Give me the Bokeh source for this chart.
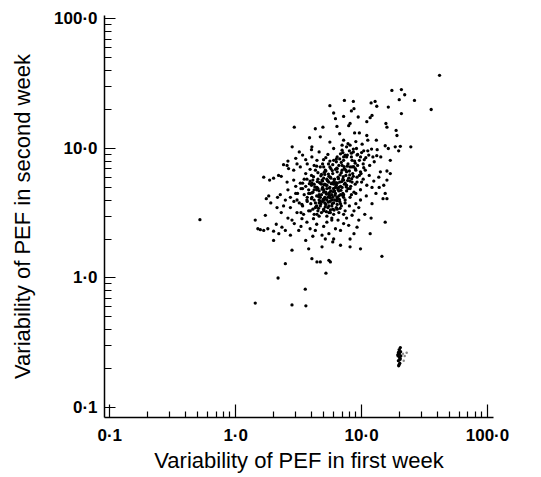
import json
from bokeh.plotting import figure
from bokeh.models import Range1d, FixedTicker, CustomJSTickFormatter
from bokeh.embed import file_html
from bokeh.resources import INLINE

# ---- tick values / labels ----
tick_values = [0.1, 1.0, 10.0, 100.0]
tick_labels = ["0·1", "1·0", "10·0", "100·0"]
minor_values = [0.2, 0.3, 0.4, 0.5, 0.6, 0.7, 0.8, 0.9,
                2, 3, 4, 5, 6, 7, 8, 9,
                20, 30, 40, 50, 60, 70, 80, 90]

x_title = "Variability of PEF in first week"
y_title = "Variability of PEF in second week"

# ---- data: variability in first week (x) and second week (y) ----
upper_week1 = [17.4, 20.7, 22.0, 19.9, 26.3, 7.3, 8.6, 11.9, 12.8, 5.6, 13.2, 16.3, 8.7, 8.3, 41.6, 35.7,
               20.7, 6.0, 7.2, 12.1, 11.7, 9.4, 6.2, 11.0, 15.6, 15.9, 2.92, 4.29, 4.93, 6.37, 8.1, 7.9, 18.8, 19.1, 9.6, 8.8,
               11.0, 11.2, 13.1, 3.86, 6.7, 7.2, 5.6, 4.7, 4.03, 2.81, 6.0, 8.1, 9.1, 15.4, 16.3, 18.5, 20.3, 24.6, 19.7, 13.3, 10.4, 7.6, 7.0, 8.6]
upper_week2 = [28.1, 28.5, 26.0, 23.8, 23.5, 23.5, 23.1, 22.5, 23.1, 21.4, 21.2, 20.9, 20.3, 19.5, 36.7, 20.0,
               18.6, 18.8, 17.7, 18.0, 17.3, 17.5, 17.0, 16.1, 15.6, 14.6, 14.6, 14.2, 14.6, 14.8, 15.6, 15.0, 13.8, 12.6, 13.2, 13.2,
               12.6, 11.6, 11.6, 12.1, 13.0, 11.6, 11.2, 12.3, 10.3, 10.3, 10.0, 10.6, 10.0, 10.5, 10.0, 10.3, 10.4, 10.3, 9.6, 9.8, 9.6, 10.3, 9.7, 9.4]

mid_week1 = [3.40, 2.56, 2.63, 3.07, 4.03, 4.42, 4.99, 5.46, 6.0, 6.4, 6.8, 7.2, 7.6, 8.4, 9.2, 9.8, 10.5, 11.4, 12.3, 14.2,
             16.9, 8.1, 8.9, 9.8, 10.7, 14.1, 15.9, 13.7, 16.9, 4.7, 5.15, 5.6, 6.4, 7.0, 7.5, 4.2, 3.7, 3.26, 2.89,
             1.67, 1.86, 2.19, 2.56, 2.89, 3.26, 3.68, 4.03, 4.42, 4.85, 5.25, 5.65, 6.0, 6.6, 7.2, 7.6, 8.4, 9.2, 10.0, 11.0,
             12.1, 15.4, 15.9, 9.8, 9.0, 8.1, 7.2, 6.6, 6.0, 5.5, 5.0, 4.6, 4.2, 3.8, 3.4, 3.0, 2.6, 2.26, 1.83]
mid_week2 = [8.9, 7.4, 7.0, 7.6, 8.6, 8.1, 8.2, 7.6, 8.1, 8.6, 9.1, 8.1, 8.6, 8.1, 8.9, 8.6, 8.2, 8.9, 8.6, 8.6,
             8.1, 7.2, 7.0, 6.6, 6.8, 6.6, 6.7, 6.0, 6.4, 7.2, 6.8, 7.2, 7.0, 7.4, 6.8, 7.4, 7.6, 7.2, 6.8,
             6.0, 5.7, 6.2, 5.5, 5.7, 5.4, 5.8, 5.4, 5.0, 5.7, 5.2, 6.0, 5.5, 5.0, 5.7, 5.2, 5.5, 6.0, 5.5, 5.2,
             5.0, 4.5, 5.7, 4.8, 4.5, 4.9, 4.4, 4.7, 4.9, 4.5, 4.8, 4.4, 4.8, 4.5, 4.9, 4.5, 4.8, 4.4, 4.3]

low_week1 = [2.15, 2.48, 2.72, 3.07, 3.36, 3.68, 4.03, 4.29, 4.7, 5.15, 5.5, 5.8, 6.4, 6.8, 7.4, 8.1, 9.0, 9.8, 12.1, 14.8,
             15.9, 2.72, 3.07, 3.46, 3.91, 4.42, 5.0, 5.65, 6.4, 7.2, 8.7, 9.5, 8.4, 2.4, 2.13,
             1.43, 1.72, 1.57, 1.67, 2.0, 2.0, 2.2, 2.33, 2.48, 2.72, 2.8, 2.92, 3.17, 3.36, 3.68, 4.15, 4.29, 4.85, 5.15, 5.5,
             6.0, 6.8, 7.2, 7.9, 9.2, 8.1, 8.7, 11.7, 15.4, 5.8,
             2.8, 3.8, 4.85, 6.8, 8.1, 9.8, 4.03, 4.42, 4.7, 5.5, 5.65,
             0.52, 1.43, 2.80, 3.61, 3.57, 2.17, 2.48, 5.21, 14.5]
low_week2 = [4.2, 4.0, 4.2, 4.0, 3.7, 4.0, 4.2, 3.5, 3.9, 4.1, 3.6, 4.0, 4.2, 3.75, 4.0, 4.2, 3.75, 4.0, 3.75, 4.1,
             4.1, 3.5, 3.2, 3.1, 3.3, 3.1, 3.3, 3.2, 3.4, 3.1, 3.3, 3.5, 3.05, 3.6, 3.5,
             2.8, 3.05, 2.36, 2.33, 2.3, 1.95, 2.2, 2.47, 2.33, 2.14, 2.8, 2.63, 2.33, 2.87, 2.7, 2.87, 2.33, 2.14, 2.0, 2.2,
             2.0, 2.33, 2.63, 2.55, 2.47, 2.0, 2.2, 2.2, 2.7, 2.8,
             1.64, 1.68, 1.74, 1.79, 1.74, 1.68, 1.41, 1.33, 1.33, 1.37, 1.33,
             2.82, 0.64, 0.62, 0.61, 0.82, 1.0, 1.29, 1.09, 1.47]

core_week1 = [3.5, 3.6, 3.7, 3.8, 3.9, 4.0, 4.0, 4.1, 4.1, 4.2, 4.3, 4.3, 4.4, 4.4, 4.5, 4.5, 4.6, 4.6, 4.7, 4.7,
              4.8, 4.8, 4.9, 4.9, 5.0, 5.0, 5.0, 5.1, 5.1, 5.2, 5.2, 5.3, 5.3, 5.4, 5.4, 5.5, 5.5, 5.6, 5.6, 5.7,
              5.7, 5.8, 5.8, 5.9, 5.9, 6.0, 6.0, 6.1, 6.2, 6.2, 6.3, 6.3, 6.4, 6.5, 6.5, 6.6, 6.7, 6.7, 6.8, 6.9,
              7.0, 7.1, 7.2, 7.3, 7.4, 7.5, 7.6, 7.8, 7.9, 8.0, 8.2, 8.4, 8.6, 8.8, 9.0, 3.4, 3.3, 3.2, 3.5, 3.7,
              3.8, 3.9, 4.0, 4.2, 4.2, 4.4, 4.5, 4.5, 4.7, 4.8, 4.9, 5.0, 5.1, 5.2, 5.3, 5.4, 5.5, 5.6, 5.7, 5.8,
              5.9, 6.0, 6.1, 6.2, 6.4, 6.4, 6.6, 6.8, 6.9, 7.0, 7.1, 7.3, 7.4, 7.6, 7.8, 8.1, 8.3, 8.5, 8.9, 9.3,
              9.6, 4.6, 5.3, 6.0, 4.1, 3.6, 4.9, 5.6, 6.3, 7.2, 6.9, 7.7, 8.3, 5.9, 4.4, 3.9, 3.4, 3.1, 3.0, 2.9,
              3.3, 5.8, 6.6, 7.4, 8.0, 8.7, 9.2, 9.9, 10.4, 5.0, 5.6, 4.4, 5.3, 6.1, 4.8, 5.5, 4.6, 6.4, 5.1]
core_week2 = [4.4, 5.1, 3.9, 4.8, 5.6, 4.1, 6.2, 3.4, 4.6, 5.3, 3.8, 6.8, 4.3, 5.0, 3.3, 5.8, 4.0, 4.7, 3.6, 5.4,
              4.4, 6.3, 3.9, 5.0, 3.4, 4.6, 5.9, 4.2, 5.3, 3.7, 6.7, 4.9, 4.0, 5.6, 3.5, 4.4, 6.1, 3.9, 5.0, 4.7,
              7.0, 3.6, 5.4, 4.2, 6.4, 4.9, 3.8, 5.8, 4.5, 6.9, 3.5, 5.2, 4.1, 6.0, 4.8, 7.4, 5.5, 3.9, 4.4, 6.5,
              5.0, 5.8, 4.2, 7.0, 5.4, 6.2, 4.7, 7.6, 5.9, 6.7, 5.1, 7.2, 6.1, 8.0, 6.8, 3.6, 4.9, 3.8, 5.8, 4.2,
              3.3, 4.5, 5.2, 4.0, 3.1, 3.6, 4.9, 6.5, 4.2, 3.2, 5.6, 7.2, 3.8, 4.6, 5.8, 4.2, 3.2, 4.6, 5.9, 4.4,
              3.4, 5.3, 4.0, 5.0, 6.6, 3.7, 4.3, 5.1, 3.6, 6.8, 4.5, 5.3, 3.8, 6.6, 4.9, 5.6, 4.4, 6.4, 5.3, 7.4,
              6.2, 3.0, 3.0, 3.1, 5.7, 6.4, 7.6, 8.0, 8.3, 8.6, 7.8, 8.9, 9.2, 7.5, 7.3, 6.9, 5.4, 4.5, 5.1, 3.9,
              3.2, 2.9, 3.2, 3.3, 3.6, 4.6, 5.5, 6.4, 7.1, 4.0, 4.3, 4.8, 5.2, 4.7, 5.3, 5.5, 3.8, 5.4, 6.3]

dense_week1 = [4.05, 4.25, 4.35, 4.55, 4.65, 4.75, 4.85, 4.95, 5.05, 5.15, 5.25, 5.35, 5.45, 5.55, 5.65, 5.75, 5.85,
               5.95, 6.05, 6.15, 6.25, 6.35, 6.45, 6.55, 6.65, 6.75, 6.85, 6.95, 7.05, 7.15, 3.85, 3.95, 4.15, 4.45,
               4.55, 4.75, 5.05, 5.25, 5.45, 5.65, 5.85, 6.05, 6.35, 6.75, 7.25, 7.55, 7.75, 8.05, 8.35, 8.65]
dense_week2 = [4.55, 5.05, 3.55, 4.25, 5.45, 3.75, 4.85, 4.05, 5.25, 3.55, 4.45, 5.65, 3.85, 4.95, 4.15, 5.35, 3.75,
               4.65, 5.75, 4.35, 5.45, 3.95, 4.95, 5.85, 4.05, 6.25, 4.75, 5.55, 4.35, 6.05, 5.35, 3.75, 6.05, 5.55,
               3.45, 6.15, 6.55, 3.25, 6.35, 3.35, 6.75, 3.35, 7.05, 3.45, 7.25, 5.05, 5.65, 6.25, 5.85, 7.25]

spread_week1 = [6.3, 6.7, 7.1, 7.4, 7.7, 8.0, 8.3, 8.6, 8.9, 9.3, 9.6, 10.0, 10.3, 10.8, 11.2, 11.6, 12.0, 12.6, 13.2,
                7.0, 7.8, 9.0, 10.1, 5.4, 5.2, 4.6, 4.0, 3.6, 3.2, 3.0, 2.6, 2.4, 2.3, 2.0, 1.75, 1.9, 2.3, 2.6, 2.1,
                1.8, 1.5, 3.3, 3.9, 4.4, 5.0, 5.3, 6.2, 6.5, 7.6, 4.1, 3.6, 5.9, 9.5, 10.6, 11.9, 13.0, 13.8, 12.5,
                11.5, 10.3, 10.9, 15.0]
spread_week2 = [7.9, 8.3, 9.3, 8.9, 7.3, 9.6, 8.6, 9.9, 7.7, 9.0, 8.1, 9.3, 7.6, 8.5, 9.6, 7.4, 9.9, 7.9, 8.8,
                10.6, 10.9, 11.3, 10.8, 9.0, 8.5, 9.4, 9.8, 8.2, 9.4, 8.4, 8.0, 7.5, 6.1, 5.9, 4.1, 3.8, 3.2, 2.9, 2.6,
                2.4, 2.4, 2.5, 2.4, 2.6, 2.5, 2.7, 2.4, 2.8, 2.9, 2.1, 1.95, 1.9, 2.8, 3.1, 2.9, 4.5, 5.0, 5.6,
                6.2, 5.8, 4.3, 5.2]

cluster_week1 = [19.5, 20.0, 20.2, 19.8, 20.5, 19.6, 20.1, 19.9, 20.3, 19.7, 20.0, 19.4, 19.6, 20.2, 19.9, 20.4]
cluster_week2 = [0.25, 0.26, 0.24, 0.27, 0.25, 0.23, 0.22, 0.28, 0.29, 0.21, 0.245, 0.255, 0.265, 0.235, 0.215, 0.27]
faint_week1 = [21.3, 22.0, 21.6, 22.8]
faint_week2 = [0.26, 0.25, 0.23, 0.265]

# ---- figure ----
W, H = 525, 475
p = figure(width=W, height=H, x_axis_type="log", y_axis_type="log",
           x_range=Range1d(0.0908, 111.6), y_range=Range1d(0.0837, 106.4),
           output_backend="svg", toolbar_location=None,
           min_border_left=104, min_border_right=W - 493, min_border_top=15, min_border_bottom=H - 417)
p.outline_line_color = None
p.grid.visible = False
p.background_fill_color = "white"
p.border_fill_color = "white"

fmt_code = ("const vals = %s; const labs = %s;"
            "for (let i = 0; i < vals.length; i++) {"
            "  if (Math.abs(Math.log10(tick) - Math.log10(vals[i])) < 1e-6) return labs[i]; }"
            "return '';") % (json.dumps(tick_values), json.dumps(tick_labels, ensure_ascii=False))

for ax in (p.xaxis[0], p.yaxis[0]):
    ax.ticker = FixedTicker(ticks=tick_values, minor_ticks=minor_values)
    ax.formatter = CustomJSTickFormatter(code=fmt_code)
    ax.major_tick_out = 0
    ax.minor_tick_out = 0
    ax.axis_line_width = 1.5
    ax.axis_line_color = "black"
    ax.major_tick_line_color = "black"
    ax.minor_tick_line_color = "black"
    ax.major_tick_line_width = 1.2
    ax.minor_tick_line_width = 1.2
    ax.major_label_text_font = "Liberation Sans"
    ax.major_label_text_font_style = "bold"
    ax.major_label_text_font_size = "17px"
    ax.major_label_text_color = "black"
    ax.axis_label_text_font = "Liberation Sans"
    ax.axis_label_text_font_style = "normal"
    ax.axis_label_text_font_size = "22px"
    ax.axis_label_text_color = "black"

p.xaxis.axis_label = x_title
p.yaxis.axis_label = y_title
p.xaxis.major_tick_in = 13
p.xaxis.minor_tick_in = 6
p.yaxis.major_tick_in = 11
p.yaxis.minor_tick_in = 7
p.xaxis.major_label_standoff = 8
p.xaxis.axis_label_standoff = 0
p.yaxis.major_label_standoff = 7
p.yaxis.axis_label_standoff = 16

for xs, ys in ((upper_week1, upper_week2), (mid_week1, mid_week2),
               (low_week1, low_week2), (core_week1, core_week2),
               (dense_week1, dense_week2), (spread_week1, spread_week2),
               (cluster_week1, cluster_week2)):
    p.scatter(xs, ys, marker="circle", size=3.3, fill_color="black", line_color=None)
p.scatter(faint_week1, faint_week2, marker="circle", size=2.5, fill_color="#888888", line_color=None)

open("out.html", "w").write(file_html(p, INLINE))
